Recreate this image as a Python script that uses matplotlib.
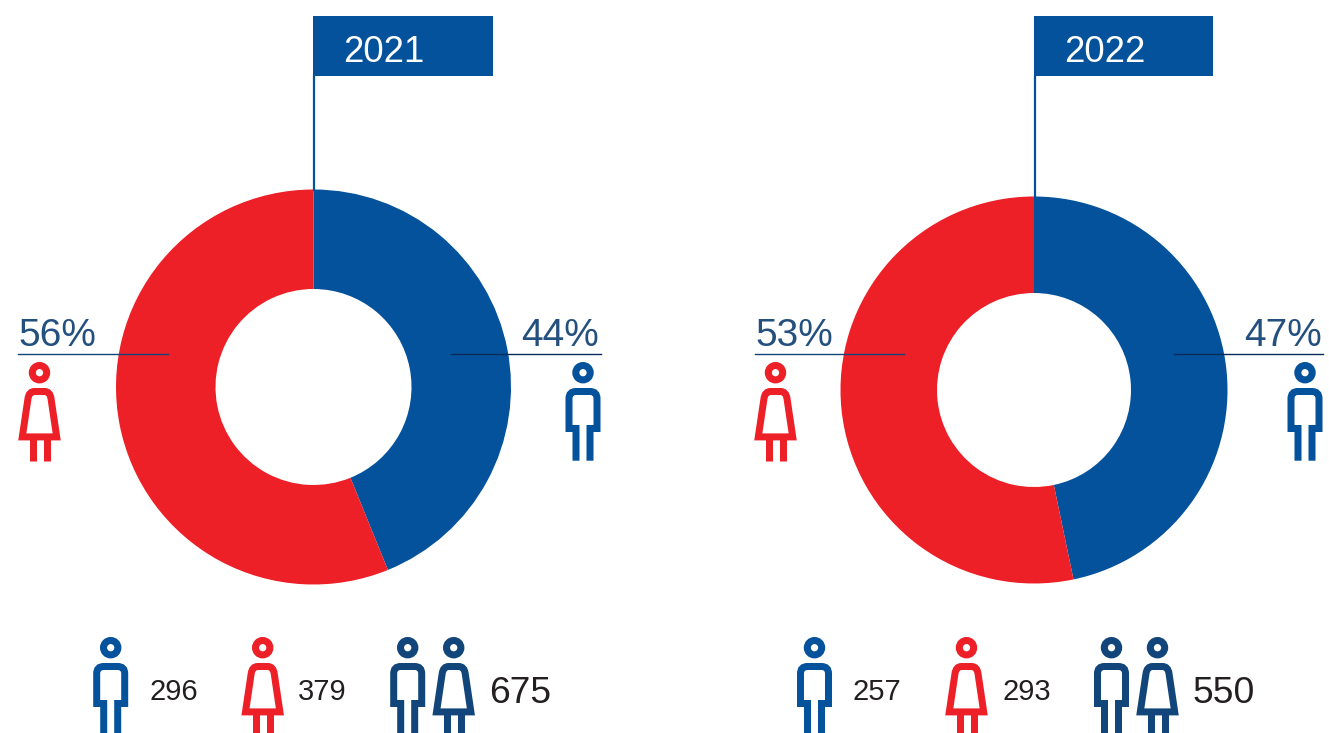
#!/usr/bin/env python

import matplotlib
matplotlib.use("Agg")
import matplotlib.pyplot as plt
from matplotlib.patches import Circle, PathPatch, Rectangle
from matplotlib.path import Path

plt.rcParams["font.family"] = ["Liberation Sans", "DejaVu Sans"]

years = ["2021", "2022"]
men_share = [44, 47]
women_share = [56, 53]
men_count = [296, 257]
women_count = [379, 293]
total_count = [675, 550]

RED = "#ed1f27"
BLUE = "#03529b"
DARK = "#12467a"
NAVY = "#0b2a5c"
TEXT = "#231f20"
PCT = "#24507f"

W, H = 1329, 733
STROKE = 7 * 0.72


def yy(p):
    return H - p


def head(ax, cx, cy, color):
    ax.add_patch(Circle((cx, yy(cy)), 7.2, fc="none", ec=color, lw=STROKE, zorder=3))


def add_path(ax, verts, codes, color):
    verts = [(x, yy(y)) for x, y in verts]
    ax.add_patch(PathPatch(Path(verts, codes), fc="none", ec=color, lw=STROKE,
                           capstyle="butt", joinstyle="miter", zorder=3))


def man(ax, cx, top, color):
    # top is the y of the head centre, everything else hangs off it
    head(ax, cx, top, color)
    t = top + 18.8
    hem = top + 55.8
    foot = top + 88
    verts = [(cx - 7, foot), (cx - 7, hem), (cx - 14, hem), (cx - 14, t + 7),
             (cx - 14, t), (cx - 7, t), (cx + 7, t), (cx + 14, t), (cx + 14, t + 7),
             (cx + 14, hem), (cx + 7, hem), (cx + 7, foot)]
    codes = [Path.MOVETO, Path.LINETO, Path.LINETO, Path.LINETO,
             Path.CURVE3, Path.CURVE3, Path.LINETO, Path.CURVE3, Path.CURVE3,
             Path.LINETO, Path.LINETO, Path.LINETO]
    add_path(ax, verts, codes, color)


def woman(ax, cx, top, color):
    head(ax, cx, top, color)
    t = top + 18.8
    hem = top + 64.2
    foot = top + 88
    verts = [(cx - 5, t), (cx + 5, t), (cx + 10.5, t), (cx + 11.5, t + 7),
             (cx + 17.2, hem), (cx - 17.2, hem), (cx - 11.5, t + 7), (cx - 10.5, t),
             (cx - 5, t), (cx - 5, t)]
    codes = [Path.MOVETO, Path.LINETO, Path.CURVE3, Path.CURVE3,
             Path.LINETO, Path.LINETO, Path.LINETO, Path.CURVE3, Path.CURVE3,
             Path.CLOSEPOLY]
    add_path(ax, verts, codes, color)
    for dx in (-7, 7):
        ax.plot([cx + dx, cx + dx], [yy(hem), yy(foot)], color=color, lw=STROKE,
                solid_capstyle="butt", zorder=3)


fig = plt.figure(figsize=(W / 100, H / 100), dpi=100)
ax = fig.add_axes([0, 0, 1, 1])

# pixel layout of the two panels
centers = [(313.5, 387), (1034, 390)]
radii = [197.5, 193.5]
holes = [98, 97]
flags = [(313, 493), (1034, 1213)]
left_line = [(18, 167.5), (755, 904)]
right_line = [(451, 601), (1174, 1323)]
right_pct = [598.5, 1321.5]
top_woman = [39.5, 775.5]
top_man = [583, 1305]
row_x = [(110.7, 262.7, 407.7, 453.7), (814.5, 966.5, 1111.5, 1157.5)]
num_x = [(149.5, 298, 489), (853, 1002, 1193)]

for i in range(2):
    cx, cy = centers[i]
    # slices come from the head counts, the labels only show them rounded
    ax.pie([men_count[i], women_count[i]], colors=[BLUE, RED], startangle=90,
           counterclock=False, center=(cx, yy(cy)), radius=radii[i],
           wedgeprops={"width": radii[i] - holes[i], "linewidth": 0})

    # flag and pole
    x0, x1 = flags[i]
    ax.add_patch(Rectangle((x0, yy(76)), x1 - x0, 60, fc=BLUE, ec="none", zorder=2))
    ax.plot([x0 + 0.5, x0 + 0.5], [yy(76), yy(cy - radii[i])], color=BLUE, lw=1.6, zorder=2)
    ax.text(x0 + 30.5, yy(62), years[i], color="white", fontsize=26.3, ha="left", va="baseline", zorder=4)

    # percentages
    ax.plot(left_line[i], [yy(354), yy(354)], color=DARK, lw=1.0, zorder=2)
    ax.plot(right_line[i], [yy(354), yy(354)], color=NAVY, lw=1.0, zorder=2)
    ax.text(left_line[i][0], yy(346), "%d%%" % women_share[i], color=PCT, fontsize=28,
            ha="left", va="baseline")
    ax.text(right_pct[i], yy(346), "%d%%" % men_share[i], color=PCT, fontsize=28,
            ha="right", va="baseline")
    woman(ax, top_woman[i], 372.7, RED)
    man(ax, top_man[i], 372.7, BLUE)

    # bottom row
    man(ax, row_x[i][0], 647.7, BLUE)
    woman(ax, row_x[i][1], 647.7, RED)
    man(ax, row_x[i][2], 647.7, DARK)
    woman(ax, row_x[i][3], 647.7, DARK)
    ax.text(num_x[i][0], yy(700), str(men_count[i]), color=TEXT, fontsize=21, ha="left", va="baseline")
    ax.text(num_x[i][1], yy(700), str(women_count[i]), color=TEXT, fontsize=21, ha="left", va="baseline")
    ax.text(num_x[i][2], yy(703), str(total_count[i]), color=TEXT, fontsize=26.8, ha="left", va="baseline")

ax.set_xlim(0, W)
ax.set_ylim(0, H)
ax.set_aspect("auto")
ax.axis("off")

fig.savefig("out.png", dpi=100, facecolor="white")
